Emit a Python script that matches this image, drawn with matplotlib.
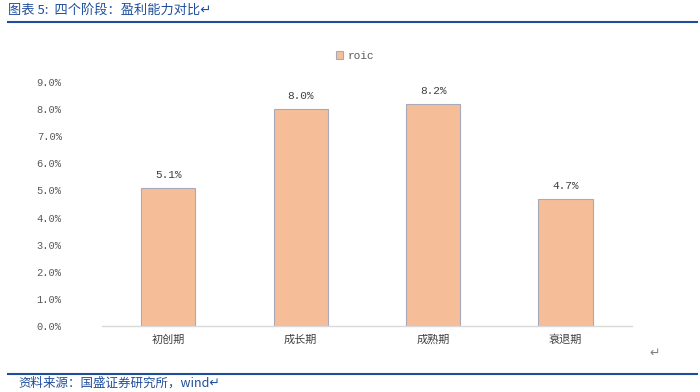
import matplotlib as mpl
import matplotlib.pyplot as plt
import numpy as np

plt.rcParams['font.family'] = ['Noto Sans CJK SC', 'DejaVu Sans']
mono = ['Liberation Mono', 'DejaVu Sans Mono']

categories = ["初创期", "成长期", "成熟期", "衰退期"]
roic = [0.051, 0.080, 0.082, 0.047]
series_name = "roic"
title = "图表 5:  四个阶段：盈利能力对比"
source = "资料来源：国盛证券研究所，wind"

blue = "#1F4E9C"
tick_gray = "#595959"

fig = plt.figure(figsize=(7, 3.92), dpi=100)
ax = fig.add_axes([0.1457, 0.168, 0.757, 0.623])

x = np.arange(len(categories))
bars = ax.bar(x, roic, width=0.41, color="#F5BE98", edgecolor="#A9A9BC",
              linewidth=0.8, label=series_name, zorder=2)

for xi, v in zip(x, roic):
    ax.text(xi, v + 0.0028, f"{v * 100:.1f}%", ha="center", va="bottom",
            fontsize=8, color="#404040", family=mono)

yt = np.arange(0, 0.0901, 0.01)
ax.set_xlim(-0.5, len(categories) - 0.5)
ax.set_ylim(0, 0.09)
ax.set_yticks(yt)
ax.set_yticklabels([f"{t * 100:.1f}%" for t in yt], family=mono)
ax.set_xticks(x)
ax.set_xticklabels(categories)
ax.tick_params(axis="y", length=0, labelsize=7.5, labelcolor=tick_gray, pad=29)
ax.tick_params(axis="x", length=0, labelsize=8, labelcolor="#404040", pad=6)
for side in ["top", "right", "left"]:
    ax.spines[side].set_visible(False)
ax.spines["bottom"].set_color("#D9D9D9")
ax.spines["bottom"].set_linewidth(1)

fig.legend(handles=[bars], labels=[series_name], loc="center",
           bbox_to_anchor=(355 / 700, 1 - 56 / 392), frameon=False,
           prop={'family': mono, 'size': 8}, handlelength=0.7,
           handleheight=0.7, handletextpad=0.4, labelcolor=tick_gray)

# header and footer like the report page
fig.text(8 / 700, 1 - 10 / 392, title + "↵", fontsize=9.5, style="italic",
         color=blue, va="center", ha="left")
fig.add_artist(mpl.lines.Line2D([8 / 700, 697 / 700], [1 - 22 / 392, 1 - 22 / 392],
                                color=blue, linewidth=1.5))
fig.text(649 / 700, 1 - 353 / 392, "↵", fontsize=9, color="#808080",
         va="center", ha="left")
fig.add_artist(mpl.lines.Line2D([8 / 700, 697 / 700], [1 - 374 / 392, 1 - 374 / 392],
                                color=blue, linewidth=1.5))
fig.text(18 / 700, 1 - 383 / 392, source + "↵", fontsize=9, style="italic",
         color=blue, va="center", ha="left")

fig.savefig("out.png", dpi=100)
